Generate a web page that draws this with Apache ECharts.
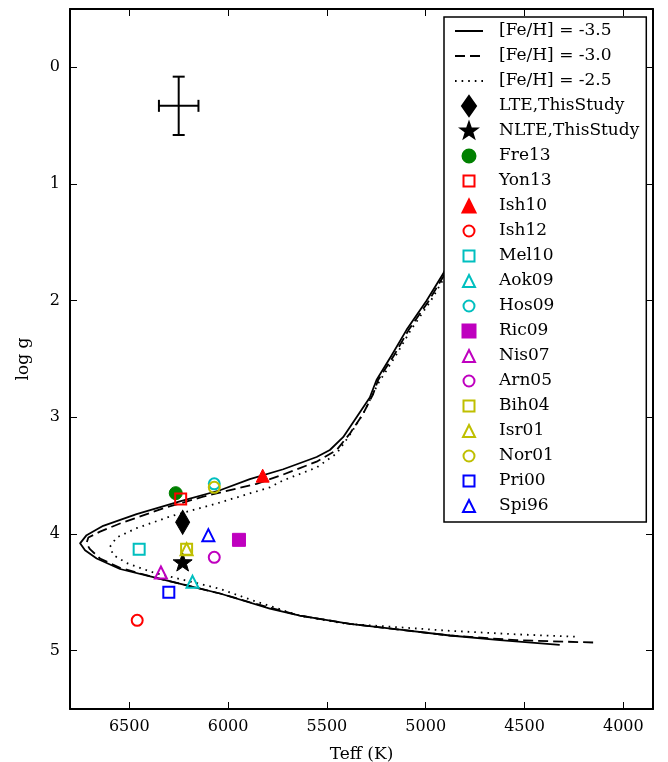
<!DOCTYPE html>
<html>
<head>
<meta charset="utf-8">
<script src="https://cdn.jsdelivr.net/npm/echarts@6/dist/echarts.min.js"></script>
<style>
  html, body { margin: 0; padding: 0; background: #fff; }
  #pic1 { width: 668px; height: 762px; }
</style>
</head>
<body>
<div id="pic1"></div>
<script>
// tick labels
var xTicks = [4000, 4500, 5000, 5500, 6000, 6500];
var yTicks = [0, 1, 2, 3, 4, 5];

// isochrones (Teff, log g)
var iso35Teff = [4322, 4625, 4878, 5131, 5384, 5637, 5789, 6041, 6210, 6379, 6547, 6665, 6724, 6749, 6716, 6632, 6463, 6244, 6041, 5890, 5721, 5552, 5485, 5418, 5350, 5283, 5249, 5173, 5097, 4996, 4912, 4870];
var iso35Logg = [4.95, 4.91, 4.87, 4.82, 4.77, 4.70, 4.64, 4.51, 4.44, 4.37, 4.30, 4.21, 4.14, 4.08, 4.01, 3.93, 3.83, 3.72, 3.625, 3.53, 3.445, 3.34, 3.28, 3.17, 3.00, 2.83, 2.68, 2.47, 2.25, 2.00, 1.77, 1.62];

var iso30Teff = [4153, 4541, 4878, 5131, 5384, 5637, 5890, 6041, 6210, 6379, 6547, 6648, 6699, 6717, 6707, 6648, 6547, 6328, 6126, 5856, 5721, 5552, 5451, 5384, 5317, 5266, 5241, 5161, 5086, 4984, 4903, 4870];
var iso30Logg = [4.93, 4.91, 4.87, 4.82, 4.77, 4.70, 4.585, 4.51, 4.44, 4.37, 4.29, 4.21, 4.13, 4.08, 4.03, 3.98, 3.91, 3.78, 3.68, 3.57, 3.49, 3.38, 3.28, 3.14, 2.97, 2.80, 2.68, 2.47, 2.25, 2.00, 1.77, 1.70];

var iso25Teff = [4246, 4541, 4878, 5131, 5401, 5637, 5875, 6041, 6210, 6379, 6513, 6581, 6598, 6564, 6463, 6294, 6041, 5789, 5721, 5552, 5451, 5384, 5317, 5241, 5151, 5075, 4974, 4898, 4870];
var iso25Logg = [4.88, 4.86, 4.83, 4.80, 4.77, 4.70, 4.57, 4.47, 4.40, 4.33, 4.25, 4.18, 4.11, 4.03, 3.95, 3.85, 3.73, 3.60, 3.54, 3.43, 3.31, 3.15, 2.97, 2.71, 2.47, 2.25, 2.00, 1.78, 1.72];

// stars: this study and literature
var starNames = ['LTE,ThisStudy', 'NLTE,ThisStudy', 'Fre13', 'Yon13', 'Ish10', 'Ish12', 'Mel10', 'Aok09', 'Hos09', 'Ric09', 'Nis07', 'Arn05', 'Bih04', 'Isr01', 'Nor01', 'Pri00', 'Spi96'];
var starTeff = [6230, 6230, 6265, 6240, 5825, 6460, 6450, 6180, 6070, 5945, 6340, 6070, 6210, 6210, 6070, 6300, 6100];
var starLogg = [3.90, 4.24, 3.65, 3.70, 3.50, 4.74, 4.13, 4.41, 3.57, 4.05, 4.33, 4.20, 4.13, 4.13, 3.60, 4.50, 4.01];

// typical error
var errTeff = [6250];
var errLogg = [0.33];
var errTeffSigma = [100];
var errLoggSigma = [0.25];

var FONT = 'DejaVu Serif';

// symbol paths; legend ones carry invisible bounds so they are not stretched
var BOX = 'M-14,-10M14,10';
function starPath(r) {
  var s = '';
  for (var k = 0; k < 10; k++) {
    var rr = k % 2 ? r * 0.4 : r;
    var a = -Math.PI / 2 + k * Math.PI / 5;
    s += (k ? 'L' : 'M') + (rr * Math.cos(a)).toFixed(2) + ',' + (rr * Math.sin(a)).toFixed(2);
  }
  return s + 'Z';
}
function lgRect(h) { return 'path://' + BOX + 'M' + (-h) + ',' + (-h) + 'L' + h + ',' + (-h) + 'L' + h + ',' + h + 'L' + (-h) + ',' + h + 'Z'; }
function lgCircle(r) { return 'path://' + BOX + 'M' + (-r) + ',0A' + r + ',' + r + ',0,1,1,' + r + ',0A' + r + ',' + r + ',0,1,1,' + (-r) + ',0Z'; }
function lgTri(h) { return 'path://' + BOX + 'M0,' + (-h) + 'L' + h + ',' + h + 'L' + (-h) + ',' + h + 'Z'; }
function lgDiamond(w, h) { return 'path://' + BOX + 'M0,' + (-h) + 'L' + w + ',0L0,' + h + 'L' + (-w) + ',0Z'; }

// marker style per star: symbol, colour, filled?, size, legend icon
var markStyle = {
  'LTE,ThisStudy': ['diamond', '#000', true, [14, 24], lgDiamond(7, 10)],
  'NLTE,ThisStudy': ['path://' + starPath(10), '#000', true, 19, 'path://' + BOX + starPath(8.5)],
  'Fre13': ['circle', '#008000', true, 13, lgCircle(6.5)],
  'Yon13': ['rect', '#ff0000', false, 11, lgRect(5.5)],
  'Ish10': ['triangle', '#ff0000', true, 13, lgTri(6.5)],
  'Ish12': ['circle', '#ff0000', false, 11, lgCircle(5.5)],
  'Mel10': ['rect', '#00bfbf', false, 11, lgRect(5.5)],
  'Aok09': ['triangle', '#00bfbf', false, 12, lgTri(6)],
  'Hos09': ['circle', '#00bfbf', false, 11, lgCircle(5.5)],
  'Ric09': ['rect', '#bf00bf', true, 13, lgRect(6.5)],
  'Nis07': ['triangle', '#bf00bf', false, 12, lgTri(6)],
  'Arn05': ['circle', '#bf00bf', false, 11, lgCircle(5.5)],
  'Bih04': ['rect', '#bfbf00', false, 11, lgRect(5.5)],
  'Isr01': ['triangle', '#bfbf00', false, 12, lgTri(6)],
  'Nor01': ['circle', '#bfbf00', false, 11, lgCircle(5.5)],
  'Pri00': ['rect', '#0000ff', false, 11, lgRect(5.5)],
  'Spi96': ['triangle', '#0000ff', false, 12, lgTri(6)]
};

function pairs(xs, ys) {
  return xs.map(function (x, i) { return [x, ys[i]]; });
}

var series = [];
var legendData = [];
var isoNames = ['[Fe/H] = -3.5', '[Fe/H] = -3.0', '[Fe/H] = -2.5'];
var isoData = [pairs(iso35Teff, iso35Logg), pairs(iso30Teff, iso30Logg), pairs(iso25Teff, iso25Logg)];
var isoDash = ['solid', [10, 5], [1.6, 5]];
isoNames.forEach(function (nm, i) {
  legendData.push({ name: nm });
  series.push({
    name: nm,
    type: 'line',
    data: isoData[i],
    symbol: 'none',
    showSymbol: false,
    z: 2,
    lineStyle: { color: '#000', width: 1.8, type: isoDash[i], join: 'round' },
    itemStyle: { color: 'rgba(0,0,0,0)', borderWidth: 0 }
  });
});

starNames.forEach(function (nm, i) {
  var st = markStyle[nm];
  legendData.push({ name: nm, icon: st[4] });
  series.push({
    name: nm,
    type: 'scatter',
    data: [[starTeff[i], starLogg[i]]],
    symbol: st[0],
    symbolSize: st[3],
    symbolKeepAspect: true,
    z: 5,
    itemStyle: st[2]
      ? { color: st[1], borderColor: st[1], borderWidth: 1, opacity: 1 }
      : { color: 'rgba(255,255,255,0)', borderColor: st[1], borderWidth: 2, opacity: 1 }
  });
});

series.push({
  name: 'error',
  type: 'custom',
  z: 5,
  data: errTeff.map(function (t, i) { return [t, errLogg[i], errTeffSigma[i], errLoggSigma[i]]; }),
  renderItem: function (params, api) {
    var x = api.value(0), y = api.value(1), dx = api.value(2), dy = api.value(3);
    var l = api.coord([x + dx, y]), r = api.coord([x - dx, y]);
    var t = api.coord([x, y - dy]), b = api.coord([x, y + dy]);
    var cap = 6;
    var st = { stroke: '#000', lineWidth: 2 };
    var seg = function (x1, y1, x2, y2) {
      return { type: 'line', shape: { x1: x1, y1: y1, x2: x2, y2: y2 }, style: st };
    };
    return {
      type: 'group',
      children: [
        seg(l[0], l[1], r[0], r[1]),
        seg(t[0], t[1], b[0], b[1]),
        seg(l[0], l[1] - cap, l[0], l[1] + cap),
        seg(r[0], r[1] - cap, r[0], r[1] + cap),
        seg(t[0] - cap, t[1], t[0] + cap, t[1]),
        seg(b[0] - cap, b[1], b[0] + cap, b[1])
      ]
    };
  }
});

var axisCommon = {
  axisLine: { onZero: false, lineStyle: { color: '#000', width: 2 } },
  splitLine: { show: false }
};
var plain = function (v) { return String(v); };

var myChart = echarts.init(document.getElementById('pic1'), null, { renderer: 'canvas' });
var option = {
  animation: false,
  backgroundColor: '#fff',
  textStyle: { fontFamily: FONT, color: '#000' },
  grid: { left: 70, right: 15, top: 9, bottom: 53, containLabel: false, outerBoundsMode: 'none' },
  legend: {
    orient: 'vertical',
    left: 444,
    top: 17,
    selectedMode: false,
    data: legendData,
    itemWidth: 28,
    itemHeight: 20,
    itemGap: 3,
    padding: [3, 7, 5, 10],
    backgroundColor: '#fff',
    borderColor: '#000',
    borderWidth: 1.5,
    borderRadius: 0,
    textStyle: { fontFamily: FONT, fontSize: 17, lineHeight: 22, color: '#000', padding: [0, 0, 0, 11] }
  },
  xAxis: [
    Object.assign({
      type: 'value', min: 3850, max: 6800, inverse: true, position: 'bottom',
      name: 'Teff (K)', nameLocation: 'middle', nameGap: 37,
      nameTextStyle: { fontFamily: FONT, fontSize: 17, color: '#000' },
      axisTick: { inside: true, length: 7, customValues: xTicks, lineStyle: { color: '#000', width: 1 } },
      axisLabel: { customValues: xTicks, formatter: plain, fontFamily: FONT, fontSize: 16, color: '#000', margin: 10 }
    }, axisCommon),
    Object.assign({
      type: 'value', min: 3850, max: 6800, inverse: true, position: 'top',
      axisTick: { inside: true, length: 7, customValues: xTicks, lineStyle: { color: '#000', width: 1 } },
      axisLabel: { show: false }
    }, axisCommon)
  ],
  yAxis: [
    Object.assign({
      type: 'value', min: -0.5, max: 5.5, inverse: true, position: 'left',
      name: 'log g', nameLocation: 'middle', nameGap: 38,
      nameTextStyle: { fontFamily: FONT, fontSize: 17, color: '#000' },
      axisTick: { inside: true, length: 7, customValues: yTicks, lineStyle: { color: '#000', width: 1 } },
      axisLabel: { customValues: yTicks, formatter: plain, fontFamily: FONT, fontSize: 16, color: '#000', margin: 10 }
    }, axisCommon),
    Object.assign({
      type: 'value', min: -0.5, max: 5.5, inverse: true, position: 'right',
      axisTick: { inside: true, length: 7, customValues: yTicks, lineStyle: { color: '#000', width: 1 } },
      axisLabel: { show: false }
    }, axisCommon)
  ],
  series: series
};
myChart.setOption(option);
</script>
</body>
</html>
